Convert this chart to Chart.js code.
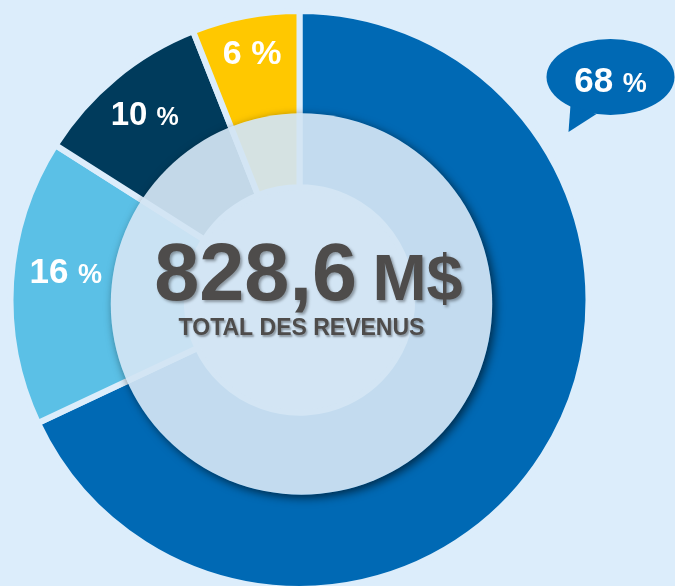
<!DOCTYPE html>
<html>
<head>
<meta charset="utf-8">
<script src="https://cdn.jsdelivr.net/npm/chart.js@4/dist/chart.umd.min.js"></script>
<style>
  html, body { margin: 0; padding: 0; background: #DCEDFB; overflow: hidden; }
  #wrap { width: 675px; height: 586px; overflow: hidden; position: relative; }
  canvas { display: block; }
</style>
</head>
<body>
<div id="wrap"><canvas id="c" width="675" height="600"></canvas></div>
<script>
// ---- data ----
const categories = ['Segment A', 'Segment B', 'Segment C', 'Segment D'];
const shares = [68, 16, 10, 6];
const shareLabels = ['68', '16', '10', '6'];
const colors = ['#0069B4', '#5BC0E6', '#003B5C', '#FFC800'];
const totalValue = '828,6';
const totalUnit = 'M$';
const totalCaption = 'TOTAL DES REVENUS';

const BG = '#DCEDFB';
const FONT = '"Liberation Sans", Arial, Helvetica, sans-serif';

function drawSplit(ctx, x, y, num, numSize, pct, pctSize, color) {
  ctx.font = 'bold ' + numSize + 'px ' + FONT;
  const w1 = ctx.measureText(num + ' ').width;
  ctx.font = 'bold ' + pctSize + 'px ' + FONT;
  const w2 = ctx.measureText(pct).width;
  const start = x - (w1 + w2) / 2;
  ctx.fillStyle = color;
  ctx.textAlign = 'left';
  ctx.textBaseline = 'alphabetic';
  ctx.font = 'bold ' + numSize + 'px ' + FONT;
  ctx.fillText(num + ' ', start, y);
  ctx.font = 'bold ' + pctSize + 'px ' + FONT;
  ctx.fillText(pct, start + w1, y);
}

const overlay = {
  id: 'overlay',
  afterDatasetsDraw(chart) {
    const ctx = chart.ctx;
    const meta = chart.getDatasetMeta(0);
    const a0 = meta.data[0];
    const cx = a0.x, cy = a0.y;
    const R = a0.outerRadius;

    // translucent centre disc with shadow
    const dx = cx + 2, dy = cy + 4, dr = R * 0.66;
    ctx.save();
    ctx.beginPath();
    ctx.rect(0, 0, chart.width, chart.height);
    ctx.arc(dx, dy, dr, 0, Math.PI * 2, true);
    ctx.clip('evenodd');
    ctx.shadowColor = 'rgba(0,0,0,0.6)';
    ctx.shadowBlur = 10;
    ctx.shadowOffsetX = 3 - 10000;
    ctx.shadowOffsetY = 3;
    ctx.beginPath();
    ctx.arc(dx + 10000, dy, dr, 0, Math.PI * 2);
    ctx.fillStyle = '#000';
    ctx.fill();
    ctx.restore();

    ctx.save();
    ctx.beginPath();
    ctx.arc(dx, dy, dr, 0, Math.PI * 2);
    ctx.fillStyle = 'rgba(210,228,243,0.93)';
    ctx.fill();
    ctx.restore();

    // segment labels (except the largest one, which goes in the bubble)
    const tune = [null, {r: 0.815, da: 3.5, n: 35, p: 27}, {r: 0.84, da: 0, n: 33, p: 25}, {r: 0.875, da: 0, n: 34, p: 34}];
    for (let i = 1; i < meta.data.length; i++) {
      const arc = meta.data[i];
      const t = tune[i];
      const mid = (arc.startAngle + arc.endAngle) / 2 + t.da * Math.PI / 180;
      const x = cx + Math.cos(mid) * R * t.r;
      const y = cy + Math.sin(mid) * R * t.r;
      drawSplit(ctx, x, y + t.n * 0.36, shareLabels[i], t.n, '%', t.p, '#FFFFFF');
    }

    // speech bubble for the largest share
    ctx.save();
    const bx = cx + 311, by = cy - 223;
    ctx.fillStyle = colors[0];
    ctx.beginPath();
    ctx.ellipse(bx, by, 64, 38, 0, 0, Math.PI * 2);
    ctx.fill();
    ctx.beginPath();
    ctx.moveTo(bx - 40, by + 28);
    ctx.lineTo(bx - 42, by + 55);
    ctx.lineTo(bx - 14, by + 37);
    ctx.closePath();
    ctx.fill();
    ctx.restore();
    drawSplit(ctx, bx, by + 15, shareLabels[0], 35, '%', 27, '#FFFFFF');

    // centre text
    ctx.save();
    ctx.shadowColor = 'rgba(0,0,0,0.35)';
    ctx.shadowBlur = 3;
    ctx.shadowOffsetX = 2;
    ctx.shadowOffsetY = 2;
    ctx.fillStyle = '#4E4C4B';
    ctx.textBaseline = 'alphabetic';
    ctx.textAlign = 'left';
    ctx.font = 'bold 81px ' + FONT;
    const w1 = ctx.measureText(totalValue + ' ').width - 7;
    ctx.font = 'bold 65px ' + FONT;
    const w2 = ctx.measureText(totalUnit).width;
    const sx = cx + 9 - (w1 + w2) / 2;
    ctx.font = 'bold 81px ' + FONT;
    ctx.fillText(totalValue, sx, cy);
    ctx.font = 'bold 65px ' + FONT;
    ctx.fillText(totalUnit, sx + w1, cy);
    ctx.font = 'bold 23px ' + FONT;
    ctx.textAlign = 'center';
    ctx.shadowBlur = 2;
    ctx.shadowOffsetX = 1.5;
    ctx.shadowOffsetY = 1.5;
    ctx.fillText(totalCaption, cx + 2, cy + 35);
    ctx.restore();
  }
};

new Chart(document.getElementById('c'), {
  type: 'doughnut',
  data: {
    labels: categories,
    datasets: [{
      data: shares,
      backgroundColor: colors,
      borderColor: BG,
      borderWidth: 6,
      hoverOffset: 0
    }]
  },
  options: {
    responsive: false,
    maintainAspectRatio: false,
    devicePixelRatio: 1,
    animation: false,
    cutout: '39%',
    layout: { padding: { left: 7.5, right: 83.5, top: 8, bottom: 8 } },
    plugins: { legend: { display: false }, tooltip: { enabled: false } },
    events: []
  },
  plugins: [overlay]
});
</script>
</body>
</html>
